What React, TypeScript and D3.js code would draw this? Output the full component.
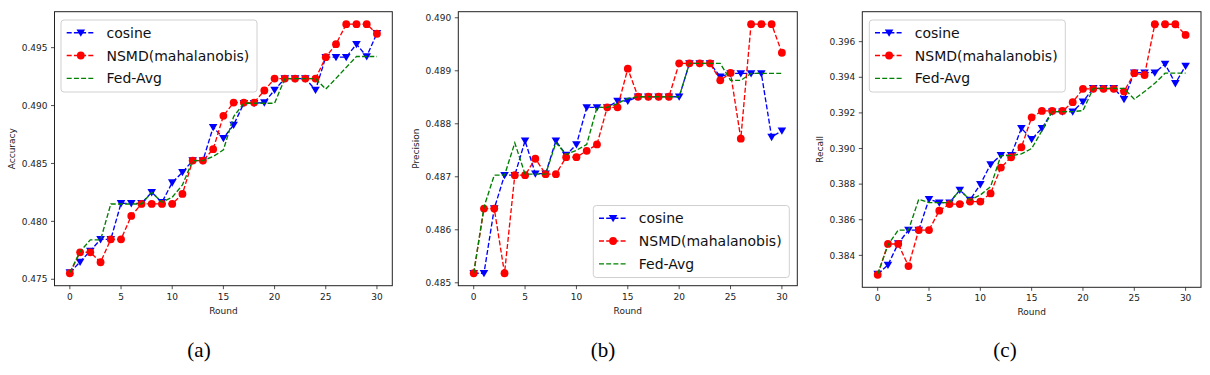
import React from "react";
import * as d3 from "d3";

const rounds = [0,1,2,3,4,5,6,7,8,9,10,11,12,13,14,15,16,17,18,19,20,21,22,23,24,25,26,27,28,29,30];
const seriesNames = ["cosine", "NSMD(mahalanobis)", "Fed-Avg"];

const accCosine = [0.47558,0.47650,0.47745,0.47845,0.47845,0.48156,0.48156,0.48156,0.48251,0.48165,0.48335,0.48424,0.48525,0.48525,0.48813,0.48718,0.48833,0.49020,0.49020,0.49026,0.49135,0.49233,0.49233,0.49233,0.49135,0.49418,0.49418,0.49418,0.49530,0.49424,0.49625];
const accNSMD = [0.47552,0.47733,0.47733,0.47647,0.47845,0.47845,0.48047,0.48151,0.48151,0.48151,0.48151,0.48237,0.48525,0.48525,0.48623,0.48911,0.49026,0.49026,0.49026,0.49130,0.49233,0.49233,0.49233,0.49233,0.49233,0.49418,0.49530,0.49703,0.49703,0.49703,0.49620];
const accFed = [0.47558,0.47740,0.47840,0.47840,0.48150,0.48150,0.48150,0.48150,0.48251,0.48165,0.48208,0.48315,0.48525,0.48525,0.48560,0.48617,0.48905,0.49020,0.49020,0.49020,0.49020,0.49233,0.49233,0.49233,0.49233,0.49142,0.49235,0.49330,0.49424,0.49424,0.49424];

const precCosine = [0.48518,0.48518,0.48640,0.48703,0.48703,0.48768,0.48706,0.48706,0.48768,0.48741,0.48761,0.48831,0.48831,0.48831,0.48843,0.48843,0.48851,0.48851,0.48851,0.48851,0.48851,0.48914,0.48914,0.48914,0.48889,0.48895,0.48895,0.48895,0.48895,0.48775,0.48787];
const precNSMD = [0.48518,0.48640,0.48640,0.48518,0.48703,0.48703,0.48734,0.48705,0.48705,0.48737,0.48737,0.48749,0.48761,0.48831,0.48831,0.48904,0.48851,0.48851,0.48851,0.48851,0.48914,0.48914,0.48914,0.48914,0.48882,0.48896,0.48772,0.48988,0.48988,0.48988,0.48934];
const precFed = [0.48518,0.48643,0.48703,0.48703,0.48764,0.48705,0.48705,0.48705,0.48764,0.48742,0.48750,0.48761,0.48831,0.48831,0.48838,0.48848,0.48851,0.48851,0.48851,0.48851,0.48851,0.48914,0.48914,0.48914,0.48914,0.48882,0.48882,0.48895,0.48895,0.48895,0.48895];

const recCosine = [0.38295,0.38346,0.38467,0.38542,0.38542,0.38715,0.38696,0.38696,0.38767,0.38711,0.38799,0.38911,0.38962,0.38962,0.39114,0.39052,0.39114,0.39207,0.39207,0.39207,0.39263,0.39338,0.39338,0.39338,0.39277,0.39426,0.39426,0.39426,0.39475,0.39366,0.39464];
const recNSMD = [0.38291,0.38464,0.38464,0.38340,0.38542,0.38542,0.38651,0.38688,0.38688,0.38702,0.38702,0.38748,0.38893,0.38951,0.39007,0.39175,0.39211,0.39211,0.39211,0.39260,0.39335,0.39335,0.39335,0.39335,0.39320,0.39423,0.39413,0.39698,0.39698,0.39698,0.39638];
const recFed = [0.38295,0.38458,0.38542,0.38542,0.38715,0.38696,0.38696,0.38696,0.38767,0.38711,0.38739,0.38786,0.38960,0.38960,0.38970,0.39000,0.39100,0.39207,0.39207,0.39207,0.39213,0.39338,0.39338,0.39338,0.39338,0.39277,0.39320,0.39366,0.39423,0.39423,0.39423];

const xTicks = [0, 5, 10, 15, 20, 25, 30];
const accTicks = [0.475, 0.480, 0.485, 0.490, 0.495];
const precTicks = [0.485, 0.486, 0.487, 0.488, 0.489, 0.490];
const recTicks = [0.384, 0.386, 0.388, 0.390, 0.392, 0.394, 0.396];

const styles = [
  { color: "#0000ff", marker: "tri" },
  { color: "#ff0000", marker: "circle" },
  { color: "#008000", marker: "none" },
];

const panels = [
  { label: "Accuracy", caption: "(a)", series: [accCosine, accNSMD, accFed], ticks: accTicks,
    left: 54.5, right: 392.3, top: 11.7, bottom: 285.7, ylabelX: 12, legendX: 61, legendY: 20, captionX: 199 },
  { label: "Precision", caption: "(b)", series: [precCosine, precNSMD, precFed], ticks: precTicks,
    left: 458.3, right: 797.3, top: 11.7, bottom: 285.7, ylabelX: 416, legendX: 593.3, legendY: 205.5, captionX: 603 },
  { label: "Recall", caption: "(c)", series: [recCosine, recNSMD, recFed], ticks: recTicks,
    left: 862.3, right: 1201, top: 11.7, bottom: 287.3, ylabelX: 820, legendX: 869.3, legendY: 20, captionX: 1005 },
];

const FONT = "'DejaVu Sans', sans-serif";

function Marker({ type, x, y, color }) {
  if (type === "circle") return <circle cx={x} cy={y} r={3.9} fill={color} />;
  if (type === "tri") {
    const s = 4.3;
    return <path d={`M${x - s},${y - s * 0.75}L${x + s},${y - s * 0.75}L${x},${y + s * 0.95}Z`} fill={color} />;
  }
  return null;
}

function Panel({ p }) {
  const x = d3.scaleLinear().domain([-1.5, 31.5]).range([p.left, p.right]);
  const all = p.series.flat();
  const lo = d3.min(all), hi = d3.max(all);
  const pad = (hi - lo) * 0.05;
  const y = d3.scaleLinear().domain([lo - pad, hi + pad]).range([p.bottom, p.top]);
  const line = d3.line().x((d, i) => x(rounds[i])).y((d) => y(d));
  const fmt = d3.format(".3f");
  const cy = (p.top + p.bottom) / 2;
  return (
    <g>
      <defs>
        <clipPath id={"clip" + p.caption}>
          <rect x={p.left} y={p.top} width={p.right - p.left} height={p.bottom - p.top} />
        </clipPath>
      </defs>
      <rect x={p.left} y={p.top} width={p.right - p.left} height={p.bottom - p.top} fill="#fff" />
      <g>
        {p.series.map((vals, si) => (
          <g key={si}>
            <path d={line(vals)} fill="none" stroke={styles[si].color} strokeWidth={1.35} strokeDasharray="5,2.2" />
            {vals.map((v, i) => (
              <Marker key={i} type={styles[si].marker} x={x(rounds[i])} y={y(v)} color={styles[si].color} />
            ))}
          </g>
        ))}
      </g>
      <rect x={p.left} y={p.top} width={p.right - p.left} height={p.bottom - p.top} fill="none" stroke="#222" strokeWidth={1} />
      {xTicks.map((t) => (
        <g key={t}>
          <line x1={x(t)} x2={x(t)} y1={p.bottom} y2={p.bottom + 3.5} stroke="#222" strokeWidth={0.8} />
          <text x={x(t)} y={p.bottom + 14} textAnchor="middle" fontSize={9} fontFamily={FONT} fill="#222">{t}</text>
        </g>
      ))}
      {p.ticks.map((t) => (
        <g key={t}>
          <line x1={p.left - 3.5} x2={p.left} y1={y(t)} y2={y(t)} stroke="#222" strokeWidth={0.8} />
          <text x={p.left - 7} y={y(t) + 3.2} textAnchor="end" fontSize={9} fontFamily={FONT} fill="#222">{fmt(t)}</text>
        </g>
      ))}
      <text x={(p.left + p.right) / 2} y={p.bottom + 28} textAnchor="middle" fontSize={9} fontFamily={FONT} fill="#222">Round</text>
      <text transform={`translate(${p.ylabelX},${cy}) rotate(-90)`} textAnchor="middle" dy="0.35em" fontSize={9} fontFamily={FONT} fill="#222">{p.label}</text>
      <g transform={`translate(${p.legendX},${p.legendY})`}>
        <rect x={0} y={0} width={196} height={72} rx={3} fill="#fff" fillOpacity={0.85} stroke="#d0d0d0" strokeWidth={1} />
        {seriesNames.map((n, si) => {
          const ry = 12.7 + si * 22.8;
          return (
            <g key={n}>
              <line x1={5.7} x2={34} y1={ry} y2={ry} stroke={styles[si].color} strokeWidth={1.35} strokeDasharray="5,2.2" />
              <Marker type={styles[si].marker} x={19.8} y={ry} color={styles[si].color} />
              <text x={45.5} y={ry + 5} fontSize={14} fontFamily={FONT} fill="#111">{n}</text>
            </g>
          );
        })}
      </g>
      <text x={p.captionX} y={357} textAnchor="middle" fontSize={21} fontFamily="'Liberation Serif', serif" fill="#000">{p.caption}</text>
    </g>
  );
}

export default function App() {
  return (
    <svg width={1210} height={375} style={{ position: "absolute", left: 0, top: 0, background: "#fff" }}>
      <rect width={1210} height={375} fill="#fff" />
      {panels.map((p) => <Panel key={p.caption} p={p} />)}
    </svg>
  );
}
